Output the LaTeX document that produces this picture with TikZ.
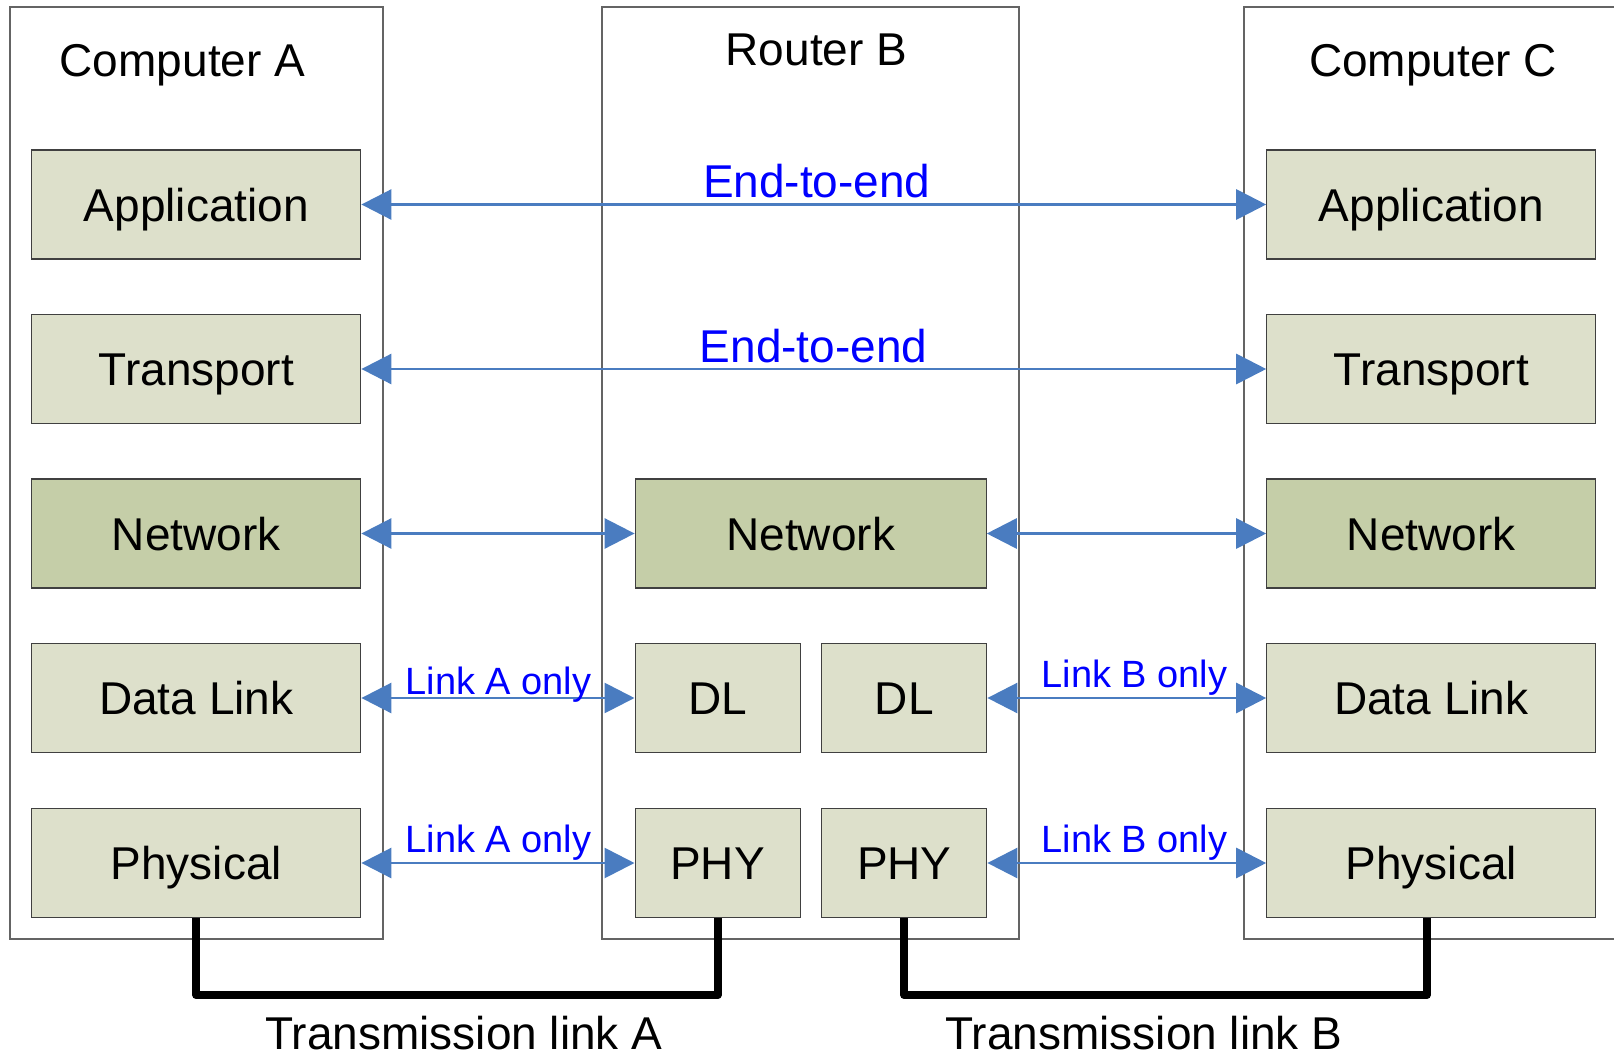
\documentclass[tikz,border=0pt]{standalone}
\usepackage{fontspec}
\setmainfont{Liberation Sans}
\usetikzlibrary{arrows.meta}

\definecolor{layerfill}{RGB}{221,224,203}
\definecolor{netfill}{RGB}{197,206,168}
\definecolor{linkblue}{RGB}{74,124,192}
\definecolor{hostgray}{RGB}{100,100,100}

\tikzset{
    layer/.style={draw=black!75, fill=layerfill, line width=0.6pt, inner sep=0pt,
                  minimum width=164.5pt, minimum height=54.5pt,
                  text height=16.5pt, text depth=0pt,
                  font=\fontsize{23}{27}\selectfont},
    netlayer/.style={layer, fill=netfill},
    halflayer/.style={layer, minimum width=82.5pt},
    host/.style={draw=hostgray, line width=0.7pt},
    hostname/.style={anchor=base, inner sep=0pt, font=\fontsize{23}{27}\selectfont},
    link/.style={linkblue, line width=1.4pt,
                 {Triangle[length=15pt,width=15pt]}-{Triangle[length=15pt,width=15pt]}},
    linklabel/.style={blue, anchor=base, inner sep=0pt},
    wire/.style={line width=4pt, line join=round},
}

\begin{document}
\begin{tikzpicture}[x=0.5pt, y=-0.5pt]

    \useasboundingbox (0,0) rectangle (1614,1056);

    % Hosts 
    % -----
    \draw[host] (10,7) rectangle (383,939);
    \draw[host] (602,7) rectangle (1019,939);
    \draw[host] (1630,7) -- (1244,7) -- (1244,939) -- (1630,939);

    \node[hostname] (nameA) at (182.5,76.5) {Computer A};
    \node[hostname] (nameB) at (816.5,65)   {Router B};
    \node[hostname] (nameC) at (1433,76.5)  {Computer C};

    % Computer A 
    % ----------
    \node[layer]    (appA) at (196.3,204.5) {Application};
    \node[layer]    (trnA) at (196.3,369)   {Transport};
    \node[netlayer] (netA) at (196.3,533.5) {Network};
    \node[layer]    (dlA)  at (196.3,698)   {Data Link};
    \node[layer]    (phyA) at (196.3,863)   {Physical};

    % Router B 
    % --------
    \node[netlayer, minimum width=175.5pt] (netB) at (810.7,533.5) {Network};
    \node[halflayer] (dlB1)  at (717.6,698) {DL};
    \node[halflayer] (dlB2)  at (904.3,698) {DL};
    \node[halflayer] (phyB1) at (717.6,863) {PHY};
    \node[halflayer] (phyB2) at (904.3,863) {PHY};

    % Computer C 
    % ----------
    \node[layer]    (appC) at (1431.3,204.5) {Application};
    \node[layer]    (trnC) at (1431.3,369)   {Transport};
    \node[netlayer] (netC) at (1431.3,533.5) {Network};
    \node[layer]    (dlC)  at (1431.3,698)   {Data Link};
    \node[layer]    (phyC) at (1431.3,863)   {Physical};

    % Peer links 
    % ----------
    \draw[link] (appA) -- (appC);
    \draw[link] (trnA) -- (trnC);
    \draw[link] (netA) -- (netB);
    \draw[link] (netB) -- (netC);
    \draw[link] (dlA)  -- (dlB1);
    \draw[link] (dlB2) -- (dlC);
    \draw[link] (phyA) -- (phyB1);
    \draw[link] (phyB2) -- (phyC);

    \node[linklabel, font=\fontsize{23}{27}\selectfont] (e2e1) at (816.8,197.6) {End-to-end};
    \node[linklabel, font=\fontsize{23}{27}\selectfont] (e2e2) at (813.6,362.3) {End-to-end};
    \node[linklabel, font=\fontsize{19}{22}\selectfont] (lnkA1) at (498.5,694.3) {Link A only};
    \node[linklabel, font=\fontsize{19}{22}\selectfont] (lnkA2) at (498.5,852.8) {Link A only};
    \node[linklabel, font=\fontsize{19}{22}\selectfont] (lnkB1) at (1134.5,687.7) {Link B only};
    \node[linklabel, font=\fontsize{19}{22}\selectfont] (lnkB2) at (1134.5,852) {Link B only};

    % Transmission links 
    % ------------------
    \draw[wire] (phyA.south) -- ++(0,77) -| (phyB1.south);
    \draw[wire] (phyB2.south) -- ++(0,77) -| ([xshift=-2.3pt]phyC.south);

    \node[hostname] (txA) at (464,1049) {Transmission link A};
    \node[hostname] (txB) at (1144,1049) {Transmission link B};

\end{tikzpicture}
\end{document}
